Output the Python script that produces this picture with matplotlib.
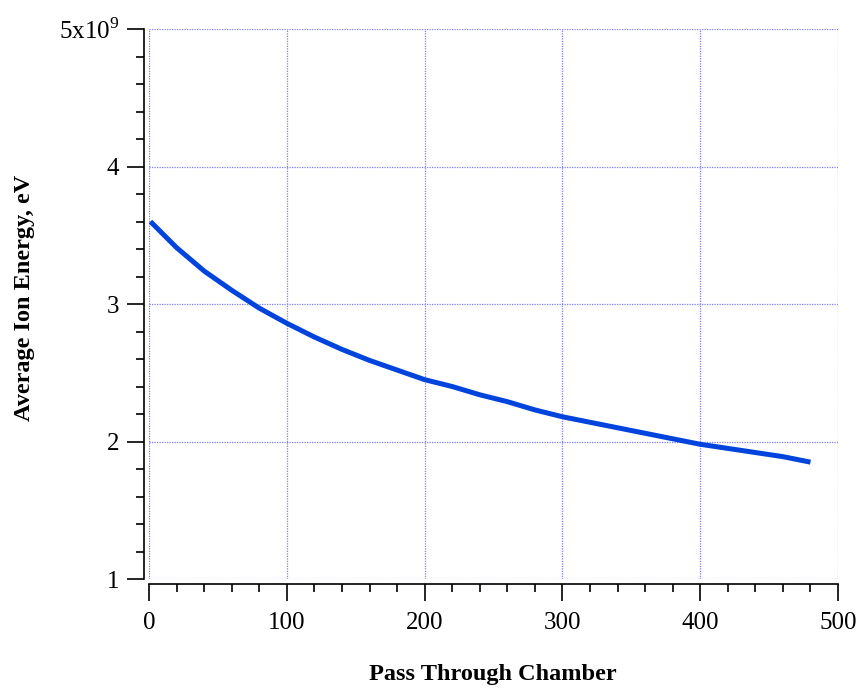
import matplotlib
matplotlib.use("Agg")
import matplotlib.pyplot as plt
from matplotlib.ticker import MultipleLocator, FixedLocator, FixedFormatter

plt.rcParams["font.family"] = ["Liberation Serif", "DejaVu Serif"]
plt.rcParams["mathtext.fontset"] = "custom"
plt.rcParams["mathtext.rm"] = "Liberation Serif"

# pass number vs average ion energy (in units of 1e9 eV)
passes = [1, 20, 40, 60, 80, 100, 120, 140, 160, 180, 200, 220, 240,
          260, 280, 300, 320, 340, 360, 380, 400, 420, 440, 460, 480]
energy = [3.60, 3.41, 3.24, 3.10, 2.97, 2.86, 2.76, 2.67, 2.59, 2.52,
          2.45, 2.40, 2.34, 2.29, 2.23, 2.18, 2.14, 2.10, 2.06, 2.02,
          1.98, 1.95, 1.92, 1.89, 1.85]

y_ticks = [1, 2, 3, 4, 5]
y_labels = ["1", "2", "3", "4", "5x10$^{9}$"]

fig = plt.figure(figsize=(8.61, 6.88), dpi=100)
ax = fig.add_axes([0.1731, 0.1584, 0.8002, 0.7994])

ax.plot(passes, energy, color="#0044dd", linewidth=3.6, solid_capstyle="butt")

ax.set_xlim(0, 500)
ax.set_ylim(1, 5)
ax.xaxis.set_major_locator(MultipleLocator(100))
ax.xaxis.set_minor_locator(MultipleLocator(20))
ax.yaxis.set_major_locator(FixedLocator(y_ticks))
ax.yaxis.set_major_formatter(FixedFormatter(y_labels))
ax.yaxis.set_minor_locator(MultipleLocator(0.2))

for s in ("top", "right"):
    ax.spines[s].set_visible(False)
for s in ("left", "bottom"):
    ax.spines[s].set_position(("outward", 3.5))
    ax.spines[s].set_linewidth(1.2)

ax.tick_params(which="major", length=12, width=1.2, labelsize=18, pad=6)
ax.tick_params(which="minor", length=6, width=1.2)
ax.tick_params(axis="x", which="major", pad=8)

ax.grid(True, which="major", color="#7f7fff", linestyle=(0, (1, 1)), linewidth=0.9)

fig.text(493 / 861, 1 - 680 / 688, "Pass Through Chamber", fontsize=17.5,
         fontweight="bold", ha="center", va="baseline")
fig.text(25 / 861, 1 - 298 / 688, "Average Ion Energy, eV", fontsize=17.5,
         fontweight="bold", ha="center", va="center", rotation=90)

fig.savefig("out.png", dpi=100)
